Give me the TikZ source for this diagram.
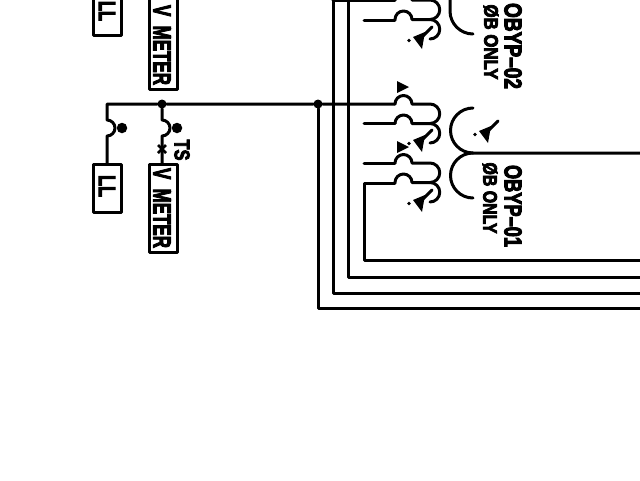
\documentclass[tikz,border=0pt]{standalone}
\usepackage{fontspec}
\usepackage{graphicx}
\setmainfont{Liberation Sans}
\newfontfamily\cadfont[FakeBold=4.5]{Liberation Sans Bold}
% \cadtext{name}{cx}{cy}{length}{height}{text}
\newcommand{\cadtext}[6]{\node[cadlabel] (#1) at (#2,#3) {\resizebox{#4pt}{#5pt}{\cadfont #6}};}
% ground arrow
\newcommand{\gndmark}[3]{%
  \begin{scope}[shift={(#2,#3)}]
    \coordinate (#1tail) at (16,-13);
    \coordinate (#1foot) at (3,0);
    \draw[wire] (#1tail) -- (#1foot);
    \fill (-3,-3) -- (6,9) -- (9,-8) -- cycle;
    \fill (-7,0.5) circle (1.8);
  \end{scope}}
% transformer primary, two windings, hump centre x=403
\newcommand{\windings}[2]{%
  \coordinate (#1c) at (430,#2);
  \draw[wire] (395,#2) arc[start angle=180,end angle=0,radius=8.5pt] -- (#1c)
     arc[start angle=90,end angle=-90,radius=9.75pt] coordinate (#1d)
     -- ++(-18,0) arc[start angle=0,end angle=180,radius=8.5pt];
  \draw[wire] (#1d) arc[start angle=90,end angle=-90,radius=9.75pt];
}
\tikzset{
  wire/.style={line width=3pt,line cap=round,line join=round},
  boxed/.style={line width=3pt,line join=round},
  cadlabel/.style={inner sep=0pt,outer sep=0pt,rotate=-90},
  jdot/.style={circle,fill=black,inner sep=0pt,minimum size=9pt}
}
\begin{document}
\begin{tikzpicture}[x=1pt,y=-1pt]
\useasboundingbox (0,0) rectangle (640,480);
\clip (0,0) rectangle (640,480);
\fill[white] (0,0) rectangle (640,480);

% meter boxes
\draw[boxed] (93,-10) rectangle (121,35);
\draw[boxed] (149,-10) rectangle (177,89);
\draw[boxed] (93,164) rectangle (121,212);
\draw[boxed] (149,164) rectangle (177,252);
\cadtext{lltop}{107}{11}{20}{16}{LL}
\cadtext{vmtop}{162}{45}{80}{17}{V\hspace{0.55em}METER}
\cadtext{llbot}{107}{186}{22}{16}{LL}
\cadtext{vmbot}{162}{208}{80}{17}{V\hspace{0.55em}METER}
\cadtext{ts}{182}{150}{21}{15}{TS}

% junctions and bus
\node[jdot] (ja) at (162,104) {};
\node[jdot] (jb) at (318,104) {};
\coordinate (busL) at (107,104);
\draw[wire] (107,164) -- (107,136) arc[start angle=-90,end angle=90,radius=8pt] -- (busL) -- (ja) -- (jb) -- (395,104);
\draw[wire] (ja) -- (162,120) arc[start angle=90,end angle=-90,radius=8pt] -- (162,164);
\node[jdot,minimum size=10.5pt] (dl) at (122,128) {};
\node[jdot,minimum size=10.5pt] (dr) at (177,128) {};
% x mark on TS branch
\draw[line width=2.5pt] (158,145) -- (166,153) (166,145) -- (158,153);

% outgoing wires
\draw[wire] (jb) -- (318,308) -- (645,308);
\draw[wire] (333,-5) -- (333,293) -- (645,293);
\draw[wire] (348,-5) -- (348,277) -- (645,277);
\draw[wire] (333,0) -- (395,0);
\draw[wire] (364,20) -- (395,20);
\draw[wire] (364,123) -- (395,123);
\draw[wire] (364,163) -- (395,163);
\draw[wire] (395,183) -- (364,183) -- (364,260) -- (645,260);

% windings
\windings{a}{0}
\windings{b}{104}
\windings{c}{163}
\gndmark{ga}{416}{40}
\gndmark{gb}{416}{143}
\gndmark{gc}{416}{203}
\gndmark{gd}{482}{134}

% secondary arcs
\draw[wire] (473,34) arc[start angle=-90,end angle=-180,radius=23pt] -- ++(0,-40);
\draw[wire] (473,108) arc[start angle=90,end angle=270,radius=22.5pt] -- (645,153);
\draw[wire] (473,153) arc[start angle=90,end angle=270,radius=22.5pt];

% triangles
\fill (397,81) -- (409,87) -- (397,93) -- cycle;
\fill (397,141) -- (409,147) -- (397,153) -- cycle;

% labels
\cadtext{nameb}{513}{46}{86}{17}{OBYP–02}
\cadtext{phaseb}{491}{42}{75}{14}{ØB ONLY}
\cadtext{namea}{513}{206}{82}{17}{OBYP–01}
\cadtext{phasea}{490}{198}{71}{14}{ØB ONLY}
\end{tikzpicture}
\end{document}
